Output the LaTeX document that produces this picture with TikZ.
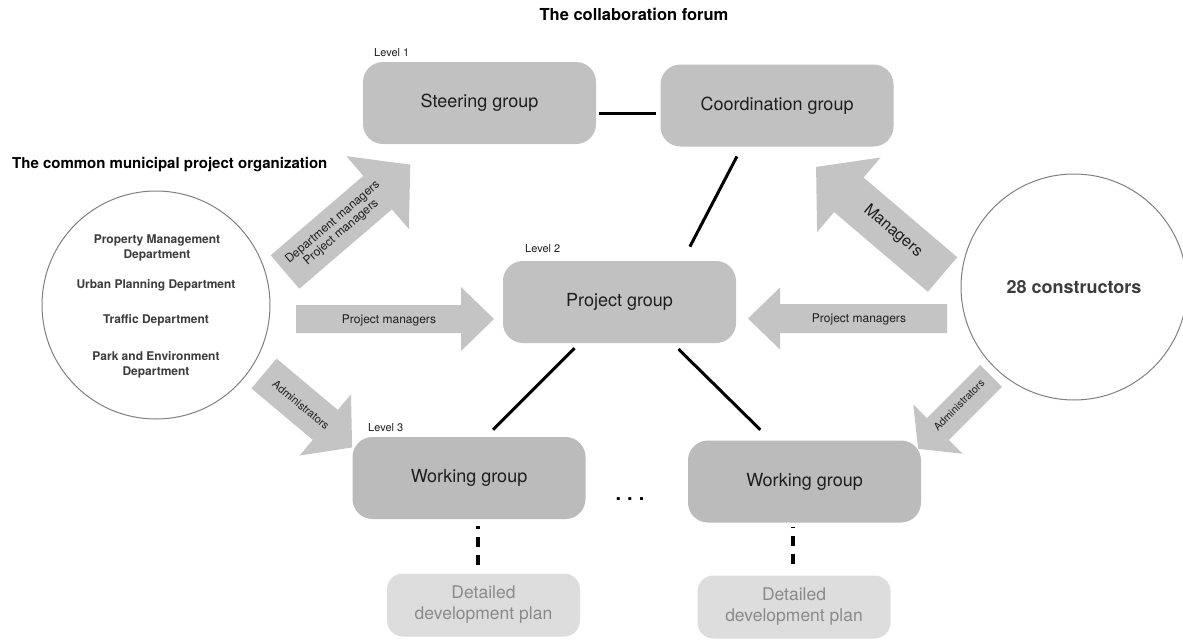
\documentclass[tikz,border=0pt]{standalone}
\usepackage{fontspec}
\setmainfont{TeX Gyre Heros}
\definecolor{boxgray}{HTML}{C1C1C1}
\definecolor{wggray}{HTML}{BBBBBB}
\definecolor{dpgray}{HTML}{DDDDDD}
\definecolor{dptext}{HTML}{8A8A8A}
\definecolor{arrgray}{HTML}{C4C4C4}
\definecolor{circline}{HTML}{808080}
\definecolor{txt}{HTML}{1E1E1E}
\definecolor{ctxt}{HTML}{3C3C3C}
\newcommand{\blockarrow}[6]{%
  \begin{scope}[shift={#1}, rotate=#2]
    \fill[arrgray] (0,#4) -- ({#3-#6},#4) -- ({#3-#6},#5) -- (#3,0) -- ({#3-#6},-#5) -- ({#3-#6},-#4) -- (0,-#4) -- cycle;
  \end{scope}}
\begin{document}
\begin{tikzpicture}[x=1pt,y=-1pt,
  grp/.style={rounded corners=20pt, fill=boxgray, minimum width=233pt, minimum height=82pt, inner sep=0pt, text=txt, font=\fontsize{18}{21}\selectfont},
  wgrp/.style={grp, fill=wggray},
  plan/.style={rounded corners=16pt, fill=dpgray, minimum width=193pt, minimum height=63pt, inner sep=0pt, align=center, text=dptext, font=\fontsize{17.5}{21}\selectfont},
  lvl/.style={anchor=west, inner sep=0pt, text=txt, font=\fontsize{11}{13}\selectfont},
  tie/.style={line width=3pt},
  plantie/.style={line width=4pt, dash pattern=on 10pt off 8pt},
  org/.style={circle, draw=circline, line width=1pt, inner sep=0pt},
  deptxt/.style={align=center, inner sep=0pt, text=ctxt, font=\bfseries\fontsize{12}{15.5}\selectfont},
  arrtxt/.style={inner sep=0pt, text=txt, align=center, font=\fontsize{12}{13}\selectfont},
  heading/.style={inner sep=0pt, text=black, font=\bfseries\fontsize{15}{18}\selectfont}
]
\fill[white] (0,0) rectangle (1183,640);
\useasboundingbox (0,0) rectangle (1183,640);

% block arrows
\blockarrow{(285,272)}{40.6}{165}{22}{48}{43}
\blockarrow{(296,319)}{0}{198}{14}{32}{33}
\blockarrow{(264,373.5)}{-40}{115}{19.5}{40}{35}
\blockarrow{(942.5,274.5)}{139.6}{166}{22.7}{49}{43}
\blockarrow{(947,318.5)}{180}{199}{14.5}{31}{32}
\blockarrow{(991,376)}{225}{103}{15.5}{35}{28}

\node[arrtxt, rotate=40.6] (t1) at (337,227.5) {Department managers\\Project managers};
\node[arrtxt] (t2) at (389,320) {Project managers};
\node[arrtxt, rotate=-40, font=\fontsize{11}{13}\selectfont] (t3) at (301,405) {Administrators};
\node[arrtxt, rotate=-40.4, font=\fontsize{16}{18}\selectfont] (t4) at (893,231) {Managers};
\node[arrtxt] (t5) at (859,319) {Project managers};
\node[arrtxt, rotate=45, font=\fontsize{10.5}{12}\selectfont] (t6) at (959,405) {Administrators};

% headings
\node[heading, font=\bfseries\fontsize{16.5}{19}\selectfont] (title) at (634,14) {The collaboration forum};
\node[heading, anchor=west] (orgtitle) at (12,165) {The common municipal project organization};

% groups
\node[lvl] (l1) at (374,53) {Level 1};
\node[grp] (st) at (479.5,103) {Steering group};
\node[grp] (co) at (777,105.5) {Coordination group};
\node[lvl] (l2) at (525,249) {Level 2};
\node[grp] (pg) at (619.5,302) {Project group};
\node[lvl] (l3) at (368,428) {Level 3};
\node[wgrp] (wg1) at (469,478) {Working group};
\node[wgrp] (wg2) at (804.5,481.5) {Working group};
\node[plan] (dp1) at (483.5,605) {Detailed\\development plan};
\node[plan] (dp2) at (794,607) {Detailed\\development plan};
\node[inner sep=0pt, font=\bfseries\fontsize{20}{20}\selectfont] (dots) at (630,499) {.\hspace{6pt}.\hspace{6pt}.};

% circles
\node[org, minimum size=228pt] (muni) at (156,305) {};
\node[deptxt] (d1) at (157,248) {Property Management\\Department};
\node[deptxt] (d2) at (156,285) {Urban Planning Department};
\node[deptxt] (d3) at (156,320) {Traffic Department};
\node[deptxt] (d4) at (156,365) {Park and Environment\\Department};
\node[org, minimum size=226pt, text=ctxt, font=\bfseries\fontsize{18}{21}\selectfont] (cons) at (1074,287) {28 constructors};

% connectors
\draw[tie] ([xshift=3pt,yshift=-10pt]st.east) -- ([xshift=-4pt,yshift=-10pt]st.east -| co.west);
\draw[tie, shorten <=11pt, shorten >=16pt] ([xshift=-35pt]co.south) -- ([xshift=63pt]pg.north);
\draw[tie, shorten <=7pt, shorten >=10pt] ([xshift=-40pt]pg.south) -- ([xshift=17pt]wg1.north);
\draw[tie, shorten <=8.5pt, shorten >=15pt] ([xshift=53pt]pg.south) -- ([xshift=-33.5pt]wg2.north);
\draw[plantie, shorten <=8.5pt, shorten >=7pt] ([xshift=-5.5pt]dp1.north) -- ([xshift=-5.5pt]dp1.north |- wg1.south);
\draw[plantie, shorten <=11pt, shorten >=4pt] ([xshift=-1pt]dp2.north) -- ([xshift=-1pt]dp2.north |- wg2.south);
\end{tikzpicture}
\end{document}
